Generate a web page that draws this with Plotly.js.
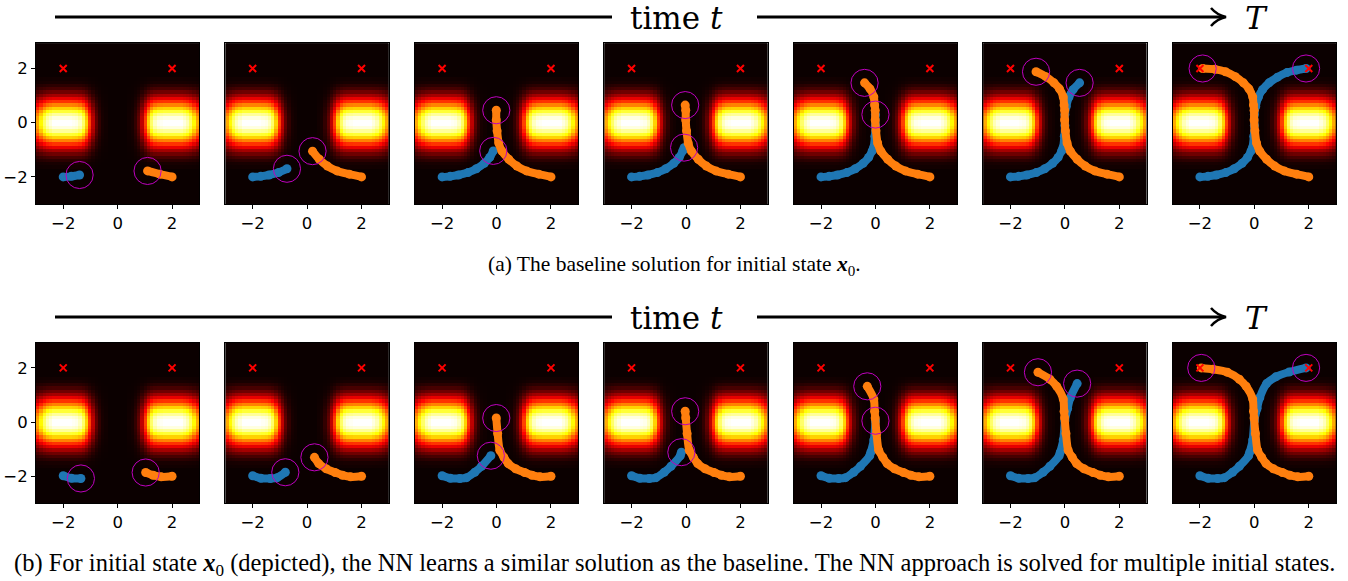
<!DOCTYPE html>
<html>
<head>
<meta charset="utf-8">
<script src="https://cdn.plot.ly/plotly-3.0.1.min.js"></script>
<style>html,body{margin:0;padding:0;background:#fff;}#chart{width:1348px;height:581px;}</style>
</head>
<body>
<div id="chart"></div>
<script>
// ---------- DATA ----------
// obstacle intensity read per cell (cells of 0.12 from -2.94 to 2.94)
const obstacleXProfile = [0.62,0.74,0.85,0.93,0.97,1,1,1,1,1,1,0.99,0.98,0.94,0.85,0.68,0.46,0.27,0.13,0.06,0.02,0.01,0,0,0,
                          0,0,0,0.01,0.02,0.06,0.13,0.27,0.46,0.68,0.85,0.94,0.98,0.99,1,1,1,1,1,1,0.97,0.93,0.85,0.74,0.62];
const obstacleYProfile = [0,0,0,0,0,0,0,0,0,0,0,0.01,0.02,0.05,0.09,0.15,0.23,0.33,0.44,0.56,0.68,0.8,0.9,0.97,1,
                          1,0.97,0.9,0.8,0.68,0.56,0.44,0.33,0.23,0.15,0.09,0.05,0.02,0.01,0,0,0,0,0,0,0,0,0,0,0];
const goalX = [-2, 2];
const goalY = [2, 2];
const tickVals = [-2, 0, 2];
const tickText = ['\u22122', '0', '2'];

// (a) baseline trajectories
const baseBlueX = [-2.0,-1.7,-1.4,-1.05,-0.74,-0.45,-0.25,-0.12,-0.07,-0.02,0.0,0.0,0.05,0.15,0.3,0.54,0.85,1.2,1.55,1.9];
const baseBlueY = [-2.0,-1.98,-1.93,-1.84,-1.7,-1.5,-1.28,-1.04,-0.92,-0.5,-0.1,0.3,0.6,0.95,1.22,1.47,1.68,1.85,1.94,2.0];
const baseBlueEnd = [2,4,7,8,11,15,19];
const baseOrangeX = [2.0,1.55,1.1,0.75,0.45,0.2,0.08,0.02,-0.01,-0.01,-0.03,-0.06,-0.2,-0.4,-0.7,-1.06,-1.45,-1.9];
const baseOrangeY = [-2.0,-1.9,-1.78,-1.6,-1.35,-1.05,-0.75,-0.3,0.1,0.46,0.65,0.95,1.25,1.47,1.7,1.88,1.97,2.0];
const baseOrangeEnd = [2,5,9,10,13,15,17];

// (b) NN trajectories
const nnBlueX = [-2.0,-1.7,-1.35,-1.1,-0.8,-0.55,-0.21,-0.17,-0.06,0.0,0.1,0.2,0.45,0.79,1.28,1.9];
const nnBlueY = [-1.98,-2.07,-2.08,-2.05,-1.85,-1.63,-1.24,-1.11,-0.66,0.05,0.5,0.9,1.42,1.67,1.85,2.0];
const nnBlueEnd = [2,4,6,7,9,12,15];
const nnOrangeX = [2.0,1.6,1.3,1.03,0.7,0.43,0.27,0.12,0.04,-0.01,-0.03,-0.06,-0.3,-0.55,-0.99,-1.52,-1.95];
const nnOrangeY = [-2.0,-2.02,-1.96,-1.86,-1.72,-1.53,-1.3,-1.04,-0.42,0.15,0.4,0.85,1.32,1.58,1.84,1.95,2.0];
const nnOrangeEnd = [3,6,9,10,12,14,16];

const captionA = '(a) The baseline solution for initial state <b><i>x</i></b><sub>0</sub>.';
const captionB = '(b) For initial state <b><i>x</i></b><sub>0</sub> (depicted), the NN learns a similar solution as the baseline. The NN approach is solved for multiple initial states.';

// ---------- LAYOUT / DRAW ----------
const W = 1348, H = 581;
const BLUE = '#1f77b4', ORANGE = '#ff7f0e', MAG = 'rgb(191,0,191)';
const hot = [[0,'rgb(11,0,0)'],[0.365,'rgb(255,0,0)'],[0.746,'rgb(255,255,0)'],[1,'rgb(255,255,255)']];
const z = obstacleYProfile.map(yv => obstacleXProfile.map(xv => yv * xv));

const rows = [
  {bx: baseBlueX, by: baseBlueY, be: baseBlueEnd, ox: baseOrangeX, oy: baseOrangeY, oe: baseOrangeEnd, top: 43.3},
  {bx: nnBlueX, by: nnBlueY, be: nnBlueEnd, ox: nnOrangeX, oy: nnOrangeY, oe: nnOrangeEnd, top: 342.7}
];
const panelW = 163.3, panelH = 160.7, step = 189.45, left0 = 36;
const traces = [], shapes = [], annotations = [];
const layout = {
  width: W, height: H, margin: {l:0, r:0, t:0, b:0},
  paper_bgcolor: '#fff', plot_bgcolor: '#000', showlegend: false, hovermode: false,
  font: {family: 'DejaVu Sans', size: 16, color: '#000'}
};

rows.forEach((row, r) => {
  for (let k = 0; k < 7; k++) {
    const n = r * 7 + k + 1;
    const sfx = n === 1 ? '' : String(n);
    const xa = 'x' + sfx, ya = 'y' + sfx;
    const left = left0 + step * k;
    layout['xaxis' + sfx] = {
      domain: [left / W, (left + panelW) / W], range: [-3, 3], anchor: ya,
      tickvals: tickVals, ticktext: tickText, ticks: 'outside', ticklen: 4, tickwidth: 1, tickcolor: '#000',
      showgrid: false, zeroline: false, showline: true, mirror: true, linecolor: '#000', linewidth: 1,
      tickfont: {family: 'DejaVu Sans', size: 16.5, color: '#000'}, fixedrange: true
    };
    layout['yaxis' + sfx] = {
      domain: [1 - (row.top + panelH) / H, 1 - row.top / H], range: [-3, 2.93], anchor: xa,
      tickvals: tickVals, ticktext: tickText, ticks: k === 0 ? 'outside' : '', ticklen: 4, tickwidth: 1, tickcolor: '#000',
      showticklabels: k === 0,
      showgrid: false, zeroline: false, showline: true, mirror: true, linecolor: '#000', linewidth: 1,
      tickfont: {family: 'DejaVu Sans', size: 16.5, color: '#000'}, fixedrange: true
    };
    traces.push({type: 'heatmap', z: z, x0: -2.94, dx: 0.12, y0: -2.94, dy: 0.12,
      colorscale: hot, zmin: 0, zmax: 1, showscale: false, zsmooth: false, xaxis: xa, yaxis: ya, hoverinfo: 'skip'});
    const bi = row.be[k], oi = row.oe[k];
    traces.push({type: 'scatter', mode: 'lines+markers', x: row.bx.slice(0, bi + 1), y: row.by.slice(0, bi + 1),
      line: {color: BLUE, width: 8, shape: 'spline', smoothing: 0.8}, marker: {color: BLUE, size: 9},
      xaxis: xa, yaxis: ya, cliponaxis: true});
    traces.push({type: 'scatter', mode: 'lines+markers', x: row.ox.slice(0, oi + 1), y: row.oy.slice(0, oi + 1),
      line: {color: ORANGE, width: 8, shape: 'spline', smoothing: 0.8}, marker: {color: ORANGE, size: 9},
      xaxis: xa, yaxis: ya, cliponaxis: true});
    traces.push({type: 'scatter', mode: 'markers', x: goalX, y: goalY,
      marker: {symbol: 'x-thin', size: 7, line: {color: 'red', width: 2}, color: 'red'}, xaxis: xa, yaxis: ya});
    [[row.bx[bi], row.by[bi]], [row.ox[oi], row.oy[oi]]].forEach(([cx, cy]) => {
      shapes.push({type: 'circle', xref: xa, yref: ya, x0: cx - 0.5, x1: cx + 0.5, y0: cy - 0.5, y1: cy + 0.5,
        line: {color: MAG, width: 1}, fillcolor: 'rgba(0,0,0,0)', layer: 'above'});
    });
  }
  // time arrow
  const ay = 17 + 300 * r;
  const py = v => 1 - v / H;
  shapes.push({type: 'line', xref: 'paper', yref: 'paper', x0: 55 / W, x1: 612 / W, y0: py(ay), y1: py(ay), line: {color: '#000', width: 3}});
  shapes.push({type: 'line', xref: 'paper', yref: 'paper', x0: 757 / W, x1: 1224 / W, y0: py(ay), y1: py(ay), line: {color: '#000', width: 3}});
  shapes.push({type: 'path', xref: 'paper', yref: 'paper',
    path: `M ${1211 / W},${py(ay - 9)} Q ${1217 / W},${py(ay - 2)} ${1226 / W},${py(ay)} Q ${1217 / W},${py(ay + 2)} ${1211 / W},${py(ay + 9)}`,
    line: {color: '#000', width: 2.5}});
  annotations.push({xref: 'paper', yref: 'paper', x: 676 / W, y: py(ay + 1), text: 'time <i>t</i>', showarrow: false,
    xanchor: 'center', yanchor: 'middle', font: {family: 'DejaVu Serif', size: 31, color: '#000'}});
  annotations.push({xref: 'paper', yref: 'paper', x: 1256 / W, y: py(ay + 1), text: '<i>T</i>', showarrow: false,
    xanchor: 'center', yanchor: 'middle', font: {family: 'DejaVu Serif', size: 31, color: '#000'}});
});

annotations.push({xref: 'paper', yref: 'paper', x: 674 / W, y: 1 - 265 / H, text: captionA, showarrow: false,
  xanchor: 'center', yanchor: 'middle', font: {family: 'Liberation Serif', size: 21.5, color: '#000'}});
annotations.push({xref: 'paper', yref: 'paper', x: 674 / W, y: 1 - 564 / H, text: captionB, showarrow: false,
  xanchor: 'center', yanchor: 'middle', font: {family: 'Liberation Serif', size: 24.5, color: '#000'}});

layout.shapes = shapes;
layout.annotations = annotations;
Plotly.newPlot('chart', traces, layout, {staticPlot: true, displayModeBar: false});
</script>
</body>
</html>
